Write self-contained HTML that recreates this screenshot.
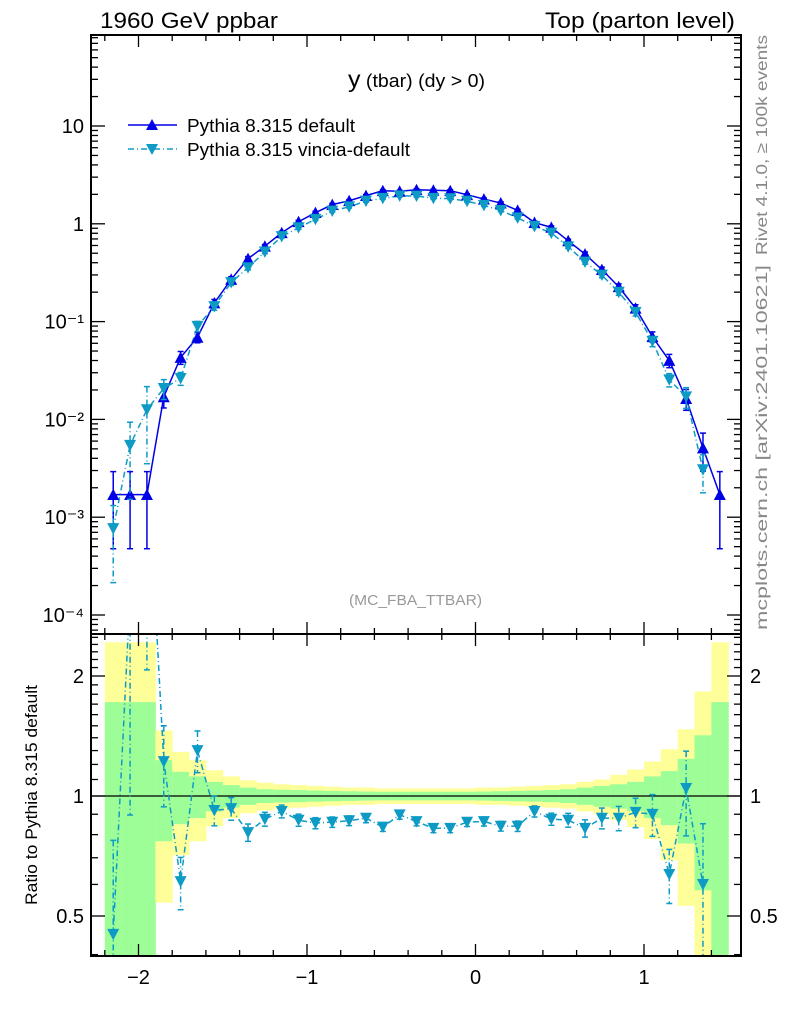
<!DOCTYPE html>
<html><head><meta charset="utf-8"><style>
html,body{margin:0;padding:0;background:#fff;overflow:hidden;width:786px;height:1024px;}
svg{display:block;font-family:"Liberation Sans",sans-serif;}
</style></head><body>
<svg id="chart" width="786" height="1024" viewBox="0 0 786 1024" xmlns="http://www.w3.org/2000/svg">
<defs>
<clipPath id="cm"><rect x="91" y="35" width="650" height="599"/></clipPath>
<clipPath id="cr"><rect x="91" y="634" width="650" height="322"/></clipPath>
</defs>
<g id="bands" clip-path="url(#cr)"></g>
<g id="marks"></g>
<g id="axes"></g>
<text x="100" y="28" font-size="22" textLength="178" lengthAdjust="spacingAndGlyphs">1960 GeV ppbar</text>
<text x="545" y="28" font-size="22" textLength="190" lengthAdjust="spacingAndGlyphs">Top (parton level)</text>
<text x="348" y="87" font-size="18" textLength="137" lengthAdjust="spacingAndGlyphs"><tspan font-size="23">y</tspan> (tbar) (dy &gt; 0)</text>
<text x="349" y="605" font-size="15" fill="#999" textLength="133" lengthAdjust="spacingAndGlyphs">(MC_FBA_TTBAR)</text>
<text transform="translate(767,255) rotate(-90)" font-size="16" fill="#888" textLength="220" lengthAdjust="spacingAndGlyphs">Rivet 4.1.0, ≥ 100k events</text>
<text transform="translate(767,630) rotate(-90)" font-size="16" fill="#888" textLength="365" lengthAdjust="spacingAndGlyphs">mcplots.cern.ch [arXiv:2401.10621]</text>
<text transform="translate(37,905) rotate(-90)" font-size="17" textLength="220" lengthAdjust="spacingAndGlyphs">Ratio to Pythia 8.315 default</text>
<g>
<g>
<line x1="128" y1="125" x2="177" y2="125" stroke="#0000e6" stroke-width="1.5"/>
<polygon points="152,119 158,130 146,130" fill="#0000e6"/>
<text x="187" y="132" font-size="18" textLength="168" lengthAdjust="spacingAndGlyphs">Pythia 8.315 default</text></g>
<g>
<line x1="128" y1="149" x2="177" y2="149" stroke="#0d9bc6" stroke-width="1.5" stroke-dasharray="6,3,1,3"/>
<polygon points="146,144 158,144 152,155" fill="#0d9bc6"/>
<text x="187" y="156" font-size="18" textLength="223" lengthAdjust="spacingAndGlyphs">Pythia 8.315 vincia-default</text></g>
</g>
</svg>
<script>
const binStart = -2.2;
const binWidth = 0.1;
const defaultVals = [0.0017,0.0017,0.0017,0.017,0.043,0.069,0.155,0.27,0.44,0.59,0.81,1.05,1.3,1.57,1.72,1.94,2.18,2.15,2.23,2.2,2.18,1.98,1.79,1.63,1.37,1.03,0.92,0.67,0.49,0.34,0.227,0.137,0.07,0.040,0.0163,0.0051,0.0017];
const ratioVals = [0.45,3.2,7.4,1.22,0.61,1.30,0.92,0.93,0.81,0.875,0.915,0.87,0.855,0.86,0.867,0.88,0.836,0.897,0.863,0.83,0.83,0.86,0.863,0.84,0.84,0.915,0.875,0.87,0.83,0.88,0.88,0.91,0.90,0.636,1.045,0.60,null];
const errGreen = [0.72,0.72,0.72,0.23,0.15,0.12,0.085,0.065,0.05,0.04,0.037,0.035,0.032,0.03,0.028,0.026,0.025,0.025,0.025,0.025,0.025,0.025,0.026,0.028,0.03,0.032,0.035,0.04,0.05,0.06,0.07,0.085,0.12,0.155,0.24,0.42,0.72];
const errYellow = [1.43,1.43,1.43,0.46,0.29,0.23,0.16,0.12,0.095,0.08,0.07,0.065,0.06,0.055,0.05,0.05,0.045,0.045,0.045,0.045,0.045,0.045,0.05,0.05,0.055,0.06,0.065,0.07,0.085,0.10,0.13,0.165,0.22,0.31,0.47,0.83,1.43];
const xTicks = [-2,-1,0,1];
const xTickLabels = ["\u22122","\u22121","0","1"];
const yDecades = [-4,-3,-2,-1,0,1];
const yDecadeLabels = ["10\u207B\u2074","10\u207B\u00B3","10\u207B\u00B2","10\u207B\u00B9","1","10"];
const rTicks = [0.5,1,2];
const rTickLabels = ["0.5","1","2"];

const NS="http://www.w3.org/2000/svg";
const X=v=>475.5+168.5*v;
const Y=v=>223.8-97.8*Math.log10(v);
const R=v=>796-120*Math.log2(v);
const L=91,Rt=741,T=35,MB=634,B=956;
function mk(parent,tag,attrs){const e=document.createElementNS(NS,tag);for(const k in attrs)e.setAttribute(k,attrs[k]);parent.appendChild(e);return e;}
const bands=document.getElementById('bands'),marks=document.getElementById('marks'),axes=document.getElementById('axes');
const n=defaultVals.length;
const cx=i=>X(binStart+binWidth*(i+0.5));
for(let i=0;i<n;i++){
  const x0=X(binStart+binWidth*i),x1=X(binStart+binWidth*(i+1));
  const ly=Math.max(1-errYellow[i],0.01),lg=Math.max(1-errGreen[i],0.01);
  const y=mk(bands,'rect',{x:x0,y:R(1+errYellow[i]),width:x1-x0+0.5,height:R(ly)-R(1+errYellow[i]),fill:'#ffff99'});
  
  
  const g=mk(bands,'rect',{x:x0,y:R(1+errGreen[i]),width:x1-x0+0.5,height:R(lg)-R(1+errGreen[i]),fill:'#9dfe98'});
  
  
}
mk(marks,'line',{x1:L,x2:Rt,y1:R(1),y2:R(1),stroke:'#000','stroke-width':1.3});
function tri(g,x,y,up,col){const s=6;const p=up?`${x},${y-s} ${x+s},${y+s*0.9} ${x-s},${y+s*0.9}`:`${x-s},${y-s*0.9} ${x+s},${y-s*0.9} ${x},${y+s}`;return mk(g,'polygon',{points:p,fill:col});}
function errbar(g,x,y1,y2,col,dash){mk(g,'line',{x1:x,x2:x,y1:y1,y2:y2,stroke:col,'stroke-width':1.5,'stroke-dasharray':dash||'none'});mk(g,'line',{x1:x-3,x2:x+3,y1:y1,y2:y1,stroke:col,'stroke-width':1.5});mk(g,'line',{x1:x-3,x2:x+3,y1:y2,y2:y2,stroke:col,'stroke-width':1.5});}
const BLUE='#0000e6',CYAN='#0d9bc6';
const gm=mk(marks,'g',{'clip-path':'url(#cm)'});


let pd='';defaultVals.forEach((v,i)=>{pd+=(i?'L':'M')+cx(i)+','+Y(v);});
const dl=mk(gm,'path',{d:pd,fill:'none',stroke:BLUE,'stroke-width':1.5});


let pv='';let first=true;
ratioVals.forEach((r,i)=>{if(r==null)return;pv+=(first?'M':'L')+cx(i)+','+Y(defaultVals[i]*r);first=false;});
const vl=mk(gm,'path',{d:pv,fill:'none',stroke:CYAN,'stroke-width':1.5,'stroke-dasharray':'6,3,1,3'});


defaultVals.forEach((v,i)=>{
  const e=errGreen[i];
  errbar(gm,cx(i),Y(v*(1+e)),Y(Math.max(v*(1-e),1e-6)),BLUE);
  const t=tri(gm,cx(i),Y(v),true,BLUE);
  
  
});
ratioVals.forEach((r,i)=>{
  if(r==null)return;const v=defaultVals[i]*r;const e=errGreen[i];
  errbar(gm,cx(i),Y(v*(1+e)),Y(Math.max(v*(1-e),1e-6)),CYAN,'6,3,1,3');
  const t=tri(gm,cx(i),Y(v),false,CYAN);
  
  
});
const gr=mk(marks,'g',{'clip-path':'url(#cr)'});


let pr='';first=true;
ratioVals.forEach((r,i)=>{if(r==null)return;pr+=(first?'M':'L')+cx(i)+','+R(r);first=false;});
const rl=mk(gr,'path',{d:pr,fill:'none',stroke:CYAN,'stroke-width':1.5,'stroke-dasharray':'6,3,1,3'});


ratioVals.forEach((r,i)=>{
  if(r==null)return;const e=errGreen[i]*r;
  errbar(gr,cx(i),R(r+e),R(Math.max(r-e,0.01)),CYAN,'6,3,1,3');
  const t=tri(gr,cx(i),R(r),false,CYAN);
  
  
});
mk(axes,'rect',{x:L,y:T,width:Rt-L,height:MB-T,fill:'none',stroke:'#000','stroke-width':2});
mk(axes,'rect',{x:L,y:MB,width:Rt-L,height:B-MB,fill:'none',stroke:'#000','stroke-width':2});
function tick(x1,y1,x2,y2){mk(axes,'line',{x1:x1,y1:y1,x2:x2,y2:y2,stroke:'#000','stroke-width':1.3});}
for(let k=-23;k<=15;k+=1){const v=k/10;const x=X(v);if(x<L||x>Rt)continue;const major=(k%10===0);const minor2=(k%2===0);
  const len=major?12:(minor2?6:0);if(!len)continue;
  tick(x,T,x,T+len);tick(x,MB,x,MB-len);tick(x,MB,x,MB+len);tick(x,B,x,B-len);}
xTicks.forEach((v,i)=>{const t=mk(axes,'text',{x:X(v),y:984,'text-anchor':'middle','font-size':20});t.textContent=xTickLabels[i];
  
  });
for(let d=-5;d<=1;d++){for(let m=1;m<10;m++){const v=m*Math.pow(10,d);const y=Y(v);if(y<T||y>MB)continue;const len=m===1?14:7;tick(L,y,L+len,y);tick(Rt,y,Rt-len,y);}}
yDecades.forEach((d,i)=>{const t=mk(axes,'text',{x:84,y:Y(Math.pow(10,d))+7,'text-anchor':'end','font-size':20});t.textContent=yDecadeLabels[i];
  
  });
for(let k=4;k<=25;k++){const v=k/10;const y=R(v);if(y<MB||y>B)continue;const major=(k===5||k===10||k===20);const len=major?14:7;tick(L,y,L+len,y);tick(Rt,y,Rt-len,y);}
rTicks.forEach((v,i)=>{const t=mk(axes,'text',{x:84,y:R(v)+7,'text-anchor':'end','font-size':20});t.textContent=rTickLabels[i];
  
  
  const t2=mk(axes,'text',{x:750,y:R(v)+7,'font-size':20});t2.textContent=rTickLabels[i];
  
  });
</script>
</body></html>
